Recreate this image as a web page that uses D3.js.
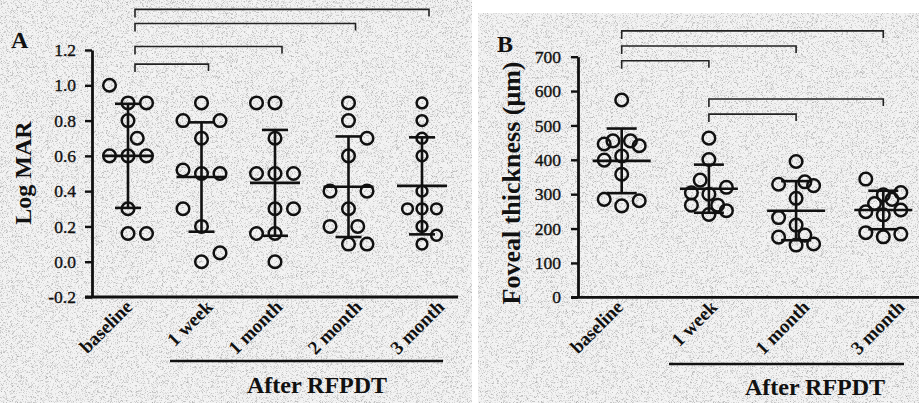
<!DOCTYPE html>
<html><head><meta charset="utf-8">
<script src="https://cdn.jsdelivr.net/npm/d3@7/dist/d3.min.js"></script>
<style>
html,body{margin:0;padding:0;background:#fff;}
svg{display:block;font-family:"Liberation Serif","Times New Roman",serif;}
</style></head>
<body>
<svg id="chart" width="919" height="403"></svg>
<script>
// ---------- data ----------
const catsA = ["baseline", "1 week", "1 month", "2 month", "3 month"];
const ticksA = [-0.2, 0.0, 0.2, 0.4, 0.6, 0.8, 1.0, 1.2];
const logmarBaseline = [1.0, 0.9, 0.9, 0.8, 0.7, 0.6, 0.6, 0.6, 0.3, 0.16, 0.16];
const logmarWeek1    = [0.9, 0.8, 0.8, 0.7, 0.52, 0.5, 0.5, 0.3, 0.2, 0.0, 0.05];
const logmarMonth1   = [0.9, 0.9, 0.7, 0.5, 0.5, 0.5, 0.3, 0.3, 0.16, 0.16, 0.0];
const logmarMonth2   = [0.9, 0.8, 0.7, 0.6, 0.4, 0.4, 0.3, 0.2, 0.2, 0.1, 0.1];
const logmarMonth3   = [0.9, 0.8, 0.7, 0.6, 0.4, 0.3, 0.3, 0.3, 0.2, 0.15, 0.1];
const logmarMean = [0.60, 0.48, 0.447, 0.425, 0.43];
const logmarSD   = [0.295, 0.31, 0.30, 0.285, 0.275];
// dot column (beeswarm slot) for each value
const slotA = [
  [-1, 0, 1, 0, 0.5, -1, 0, 1, 0, 0, 1],
  [0, -1, 1, 0, -1, 0, 1, -1, 0, 0, 1],
  [-1, 0, 0, -1, 0, 1, 0, 1, -1, 0, 0],
  [0, 0, 1, 0, -1, 1, 0, -1, 0.5, 0, 1],
  [0, 0, 0, 0, 0, -1, 0, 1, 0, 1, 0]
];
const bracketsA = [ // [from, to, level]
  [0, 4, 1.43], [0, 3, 1.35], [0, 2, 1.22], [0, 1, 1.12]
];

const catsB = ["baseline", "1 week", "1 month", "3 month"];
const ticksB = [0, 100, 200, 300, 400, 500, 600, 700];
const ftBaseline = [574, 446, 455, 455, 441, 411, 399, 358, 285, 266, 281];
const ftWeek1    = [463, 401, 341, 320, 304, 300, 268, 268, 241, 252];
const ftMonth1   = [395, 329, 336, 325, 288, 232, 210, 175, 181, 152, 155];
const ftMonth3   = [344, 305, 298, 285, 273, 249, 240, 254, 188, 176, 184];
const ftMean = [397, 316, 252, 254];
const ftSD   = [94, 70, 86, 56];
const slotB = [
  [0, -1, -0.5, 0.5, 1, 0, -1, 0, -1, 0, 1],
  [0, 0, -0.5, 1, -1, 0, -1, 0.5, 0, 1],
  [0, -1, 0.5, 1, 0, -1, 0, -1, 0.5, 0, 1],
  [-1, 1, 0, 0.5, -0.5, -1, 0, 1, -1, 0, 1]
];
const bracketsB = [
  [0, 3, 775], [0, 2, 731], [0, 1, 688], [1, 3, 577], [1, 2, 533]
];

// ---------- drawing ----------
const svg = d3.select("#chart");
const defs = svg.append("defs");
const f = defs.append("filter").attr("id", "speckle")
  .attr("x", 0).attr("y", 0).attr("width", "100%").attr("height", "100%");
f.append("feTurbulence").attr("type", "fractalNoise").attr("baseFrequency", 2.2)
  .attr("numOctaves", 1).attr("seed", 5).attr("result", "t");
f.append("feColorMatrix").attr("type", "matrix")
  .attr("values", "0 0 0 0 0.35  0 0 0 0 0.35  0 0 0 0 0.35  2.8 0 0 0 -1.4");

svg.append("rect").attr("width", 919).attr("height", 403).attr("fill", "#fff");
[[0, 0, 472, 403], [478, 13, 441, 390]].forEach(([x, y, w, h]) => {
  svg.append("rect").attr("x", x).attr("y", y).attr("width", w).attr("height", h).attr("fill", "#f3f3f3");
  svg.append("rect").attr("x", x).attr("y", y).attr("width", w).attr("height", h)
    .attr("filter", "url(#speckle)");
});

function panel(o) {
  const g = svg.append("g");
  // y axis
  const ya = g.append("g").attr("transform", `translate(${o.axisX},0)`)
    .call(d3.axisLeft(o.y).tickValues(o.ticks).tickFormat(o.fmt).tickSize(7).tickSizeOuter(0).tickPadding(o.pad));
  ya.attr("font-family", null);
  ya.select(".domain").attr("stroke", "#111").attr("stroke-width", 2.8);
  ya.selectAll(".tick line").attr("stroke", "#111").attr("stroke-width", 2.4);
  ya.selectAll(".tick text").attr("font-size", 17.5).attr("fill", "#111")
    .attr("font-family", "'Liberation Serif', serif")
    .attr("stroke", "#111").attr("stroke-width", 0.35);
  // x axis line
  const y0 = o.y.range()[0];
  g.append("line").attr("x1", o.axisX - 7).attr("x2", o.xEnd).attr("y1", y0).attr("y2", y0)
    .attr("stroke", "#111").attr("stroke-width", 2.8);
  const xa = g.append("g").attr("transform", `translate(0,${y0})`)
    .call(d3.axisBottom(o.x).tickSize(0).tickSizeOuter(0));
  xa.attr("font-family", null);
  xa.select(".domain").remove();
  xa.selectAll(".tick text")
    .attr("font-size", 19).attr("font-weight", "bold").attr("fill", "#111")
    .attr("font-family", "'Liberation Serif', serif")
    .attr("text-anchor", "end").attr("x", 0).attr("y", 0).attr("dy", 0)
    .attr("transform", (d, i) => `translate(${o.labelShift[i]},11) rotate(-45)`);

  // error bars + mean lines
  o.cats.forEach((c, i) => {
    const cx = o.x(c);
    const m = o.mean[i], s = o.sd[i];
    const gg = g.append("g").attr("stroke", "#111").attr("stroke-width", 2.6);
    gg.append("line").attr("x1", cx).attr("x2", cx).attr("y1", o.y(m + s)).attr("y2", o.y(m - s));
    gg.append("line").attr("x1", cx - o.meanHW).attr("x2", cx + o.meanHW).attr("y1", o.y(m)).attr("y2", o.y(m));
    [m + s, m - s].forEach(v => gg.append("line").attr("x1", cx - o.capHW).attr("x2", cx + o.capHW)
      .attr("y1", o.y(v)).attr("y2", o.y(v)));
    // points
    g.append("g").selectAll("circle").data(o.values[i]).join("circle")
      .attr("cx", (d, j) => cx + o.slot[i][j] * o.step[i])
      .attr("cy", d => o.y(d))
      .attr("r", o.r[i])
      .attr("fill", "none").attr("stroke", "#111").attr("stroke-width", 2.5);
  });

  // brackets
  o.brackets.forEach(([a, b, lv]) => {
    const x1 = o.x(o.cats[a]) + o.brDx, x2 = o.x(o.cats[b]) + o.brDx, yy = o.y(lv);
    g.append("path").attr("d", `M${x1},${yy + 8}V${yy}H${x2}V${yy + 7}`)
      .attr("fill", "none").attr("stroke", "#222").attr("stroke-width", 1.6);
  });

  // group line & title
  g.append("line").attr("x1", o.grp[0]).attr("x2", o.grp[1]).attr("y1", o.grp[2]).attr("y2", o.grp[2])
    .attr("stroke", "#111").attr("stroke-width", 2.6);
  g.append("text").attr("x", o.after[0]).attr("y", o.after[1]).attr("text-anchor", "middle")
    .attr("font-size", 24).attr("font-weight", "bold").attr("fill", "#111").text("After RFPDT");
  g.append("text").attr("x", o.letter[0]).attr("y", o.letter[1])
    .attr("font-size", 24).attr("font-weight", "bold").attr("fill", "#111").text(o.letterText);
  g.append("text").attr("transform", `translate(${o.ylab[0]},${o.ylab[1]}) rotate(-90)`)
    .attr("text-anchor", "middle").attr("font-size", o.ylabSize).attr("font-weight", "bold").attr("fill", "#111")
    .text(o.ylabText);
}

panel({
  cats: catsA, ticks: ticksA, fmt: d => d.toFixed(1), pad: 9,
  y: d3.scaleLinear().domain([-0.2, 1.2]).range([297, 50]),
  x: d3.scalePoint().domain(catsA).range([128, 422]),
  axisX: 92, xEnd: 458,
  values: [logmarBaseline, logmarWeek1, logmarMonth1, logmarMonth2, logmarMonth3],
  slot: slotA, step: [18.5, 18.5, 18.5, 18.5, 14.5], r: [6.3, 6.3, 6.3, 6.3, 5.4],
  mean: logmarMean, sd: logmarSD, meanHW: 25, capHW: 13,
  brackets: bracketsA, brDx: 7,
  labelShift: [5, 12, 8, 14, 23],
  grp: [170, 443, 361], after: [317, 393], letter: [11, 48], letterText: "A",
  ylab: [31, 173], ylabText: "Log MAR", ylabSize: 24
});

panel({
  cats: catsB, ticks: ticksB, fmt: d => String(d), pad: 10,
  y: d3.scaleLinear().domain([0, 700]).range([297.3, 56.7]),
  x: d3.scalePoint().domain(catsB).range([621.7, 883.3]),
  axisX: 578, xEnd: 919,
  values: [ftBaseline, ftWeek1, ftMonth1, ftMonth3],
  slot: slotB, step: [17.5, 17.5, 17.5, 17.5], r: [6.3, 6.3, 6.3, 6.3],
  mean: ftMean, sd: ftSD, meanHW: 29, capHW: 15,
  brackets: bracketsB, brDx: 0,
  labelShift: [2, 9, 14, 22],
  grp: [669, 904, 364], after: [815, 395], letter: [497, 52], letterText: "B",
  ylab: [520, 183], ylabText: "Foveal thickness (μm)", ylabSize: 26
});
</script>
</body></html>
